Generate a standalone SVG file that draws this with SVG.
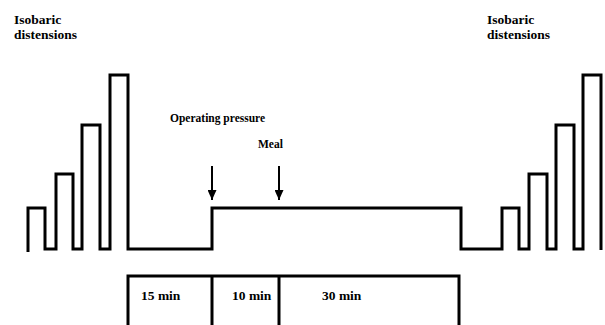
<svg xmlns="http://www.w3.org/2000/svg" width="605" height="325" viewBox="0 0 605 325">
<style>
.t{font-family:"Liberation Serif","Times New Roman",serif;font-weight:bold;fill:#000}
.big{font-size:13.5px}
.sm{font-size:11.5px}
.ln{fill:none;stroke:#000;stroke-width:3;stroke-linejoin:miter;stroke-linecap:butt}
.ar{fill:none;stroke:#000;stroke-width:2}
</style>
<defs>
<marker id="ah" markerUnits="userSpaceOnUse" markerWidth="10" markerHeight="9" refX="10" refY="4.5" orient="auto">
<path d="M0,0 L10,4.5 L0,9 z" fill="#000"/>
</marker>
</defs>
<rect width="605" height="325" fill="#fff"/>
<g id="labels">
<text class="t big" x="14" y="23.5">Isobaric</text>
<text class="t big" x="14" y="38.5">distensions</text>
<text class="t big" x="487" y="23.5">Isobaric</text>
<text class="t big" x="487" y="38.5">distensions</text>
<text class="t sm" x="170" y="122">Operating pressure</text>
<text class="t sm" x="258" y="147.5">Meal</text>
</g>
<g id="pressure-trace">
<polyline class="ln" points="28,252 28,208 45,208 45,249 56,249 56,174 73,174 73,249 82,249 82,125 100,125 100,249 110,249 110,75 128,75 128,249 212,249 212,208 461,208 461,249 502,249 502,208 519,208 519,249 529,249 529,174 547,174 547,249 556,249 556,125 574,125 574,249 583,249 583,75 601,75 601,250"/>
</g>
<g id="connectors">
<line class="ar" x1="212" y1="166" x2="212" y2="200" marker-end="url(#ah)"/>
<line class="ar" x1="279" y1="166" x2="279" y2="200" marker-end="url(#ah)"/>
</g>
<g id="timeline">
<polyline class="ln" points="128,325 128,276 459,276 459,325"/>
<line class="ln" x1="212" y1="276" x2="212" y2="325"/>
<line class="ln" x1="279" y1="276" x2="279" y2="325"/>
<text class="t big" x="141" y="299.5">15 min</text>
<text class="t big" x="232" y="299.5">10 min</text>
<text class="t big" x="322" y="299.5">30 min</text>
</g>
</svg>
